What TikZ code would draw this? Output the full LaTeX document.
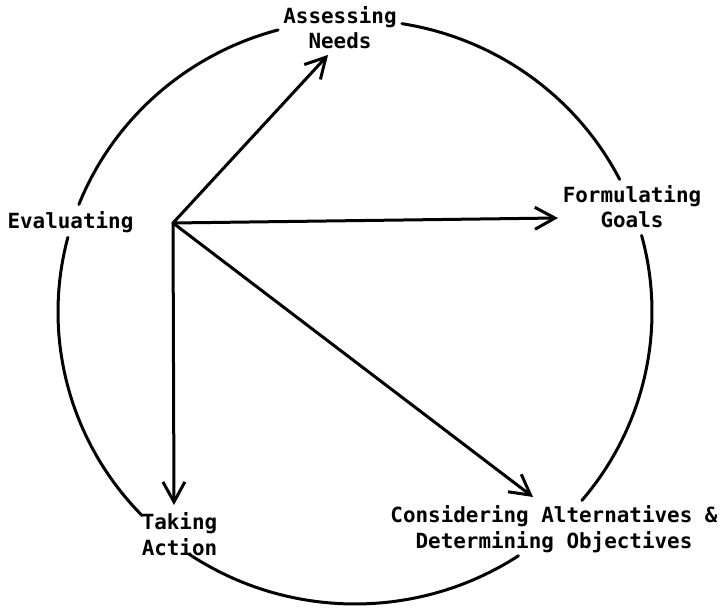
\documentclass[tikz,border=0pt]{standalone}
\usepackage{fontspec}
\newfontfamily\labfont{DejaVu Sans Mono Bold}
\usetikzlibrary{arrows.meta}
\begin{document}
\begin{tikzpicture}[x=1pt,y=1pt,
  line width=3pt,
  lab/.style={font=\labfont\fontsize{20.9}{25.5}\selectfont, align=center, inner sep=0pt},
  arr/.style={-{Straight Barb[length=20pt,width=22pt]}, line cap=round},
  ring/.style={line cap=round}]
\useasboundingbox (0,0) rectangle (725,609);
\coordinate (c) at (355,297);
% circle arcs
\draw[ring] ([shift={(80.9:297pt and 292pt)}]c) arc[start angle=80.9,end angle=27,x radius=297pt,y radius=292pt];
\draw[ring] ([shift={(15.2:297pt and 292pt)}]c) arc[start angle=15.2,end angle=-40.2,x radius=297pt,y radius=292pt];
\draw[ring] ([shift={(-56.6:297pt and 292pt)}]c) arc[start angle=-56.6,end angle=-124,x radius=297pt,y radius=292pt];
\draw[ring] ([shift={(224.2:297pt and 292pt)}]c) arc[start angle=224.2,end angle=165.2,x radius=297pt,y radius=292pt];
\draw[ring] ([shift={(158.4:297pt and 292pt)}]c) arc[start angle=158.4,end angle=105,x radius=297pt,y radius=292pt];
% labels
\node[lab] (needs) at (340,581.5) {Assessing\\Needs};
\node[lab] (goals) at (632,402.5) {Formulating\\Goals};
\node[lab,anchor=base] (eval) at (70.5,380) {Evaluating};
\node[lab] (action) at (179.5,75) {Taking\\Action};
\node[lab] (consider) at (554,80) {Considering Alternatives \&\\Determining Objectives};
% arrows
\coordinate (hub) at (173,386);
\coordinate (tipN) at (328,554);
\coordinate (tipG) at (558,391);
\coordinate (tipA) at (174,104);
\coordinate (tipC) at (533,112);
\draw[arr] (hub) -- (tipN);
\draw[arr] (hub) -- (tipG);
\draw[arr] (hub) -- (tipA);
\draw[arr] (hub) -- (tipC);
\end{tikzpicture}
\end{document}
